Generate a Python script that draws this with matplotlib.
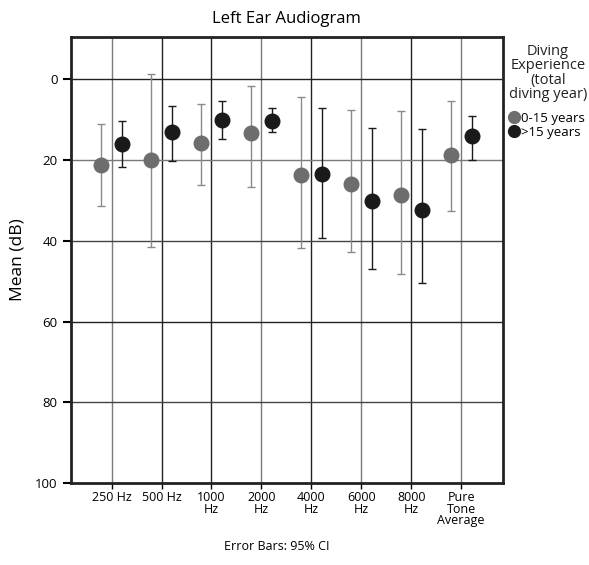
import matplotlib
matplotlib.use('Agg')
from matplotlib import pyplot as plt
from matplotlib.lines import Line2D
import numpy as np

plt.rcParams['font.family'] = ['Open Sans', 'DejaVu Sans']

# data
labels = ['250 Hz', '500 Hz', '1000\nHz', '2000\nHz', '4000\nHz', '6000\nHz',
          '8000\nHz', 'Pure\nTone\nAverage']
low_mean = [21.2, 20.1, 15.8, 13.3, 23.7, 25.9, 28.7, 18.9]
low_top = [11.0, -1.2, 6.1, 1.6, 4.4, 7.7, 7.8, 5.4]
low_bot = [31.3, 41.6, 26.3, 26.8, 41.9, 42.9, 48.2, 32.6]
high_mean = [16.1, 13.0, 10.1, 10.3, 23.6, 30.2, 32.3, 14.1]
high_top = [10.4, 6.6, 5.5, 7.2, 7.2, 12.1, 12.4, 9.1]
high_bot = [21.7, 20.2, 14.9, 13.1, 39.3, 47.1, 50.4, 20.1]

x = np.arange(len(labels))
low_mean, low_top, low_bot = map(np.array, (low_mean, low_top, low_bot))
high_mean, high_top, high_bot = map(np.array, (high_mean, high_top, high_bot))

GRAY = '#6d6d6d'
BLACK = '#1a1a1a'

fig = plt.figure(figsize=(5.89, 5.65), dpi=100)
ax = fig.add_axes([0.120, 0.145, 0.734, 0.79])

# grid lines, alternating tones as in the original
vcols = ['#7a7a7a', '#222222', '#222222', '#7a7a7a', '#222222', '#7a7a7a', '#222222', '#7a7a7a']
for xi, c in zip(x, vcols):
    ax.axvline(xi, color=c, lw=1.0, zorder=0)
hcols = ['#222222', '#7a7a7a', '#444444', '#222222', '#444444']
for yv, c in zip([0, 20, 40, 60, 80], hcols):
    ax.axhline(yv, color=c, lw=1.0, zorder=0)

ax.errorbar(x - 0.21, low_mean, yerr=[low_mean - low_top, low_bot - low_mean],
            fmt='o', color=GRAY, ecolor='#8a8a8a', elinewidth=1.0,
            capsize=3, capthick=1.0, markersize=10.5, zorder=3)
ax.errorbar(x + 0.21, high_mean, yerr=[high_mean - high_top, high_bot - high_mean],
            fmt='o', color=BLACK, ecolor=BLACK, elinewidth=1.0,
            capsize=3, capthick=1.0, markersize=10.5, zorder=3)

ax.set_xlim(-0.82, 7.84)
ax.set_ylim(100, -10.5)
ax.set_yticks([0, 20, 40, 60, 80, 100])
ax.set_xticks(x)
ax.set_xticklabels(labels, fontsize=9, linespacing=0.85)
ax.tick_params(axis='y', labelsize=9.5, length=6, width=1.5, direction='out')
ax.tick_params(axis='x', length=4, width=1.0, pad=2, direction='out')
for s in ax.spines.values():
    s.set_linewidth(2)
    s.set_color('#222222')

ax.set_ylabel('Mean (dB)', fontsize=12.5, labelpad=7)
ax.set_title('Left Ear Audiogram', fontsize=12, pad=10)

# legend: title block and entries
fig.text(0.930, 1 - 44 / 565, 'Diving\nExperience\n(total\ndiving year)',
         ha='center', va='top', fontsize=10.5, linespacing=0.95, color='#222222')
handles = [Line2D([], [], ls='none', marker='o', color=GRAY, markersize=8.5),
           Line2D([], [], ls='none', marker='o', color=BLACK, markersize=8.5)]
fig.legend(handles, ['0-15 years', '>15 years'], loc='upper left',
           bbox_to_anchor=(509 / 589, 1 - 112 / 565), frameon=False, fontsize=9.5,
           handletextpad=0.1, handlelength=0.8, borderpad=0.0, borderaxespad=0.0,
           labelspacing=0.05)

fig.text(0.47, 0.027, 'Error Bars: 95% CI', ha='center', fontsize=9)

fig.savefig('out.png', dpi=100)
